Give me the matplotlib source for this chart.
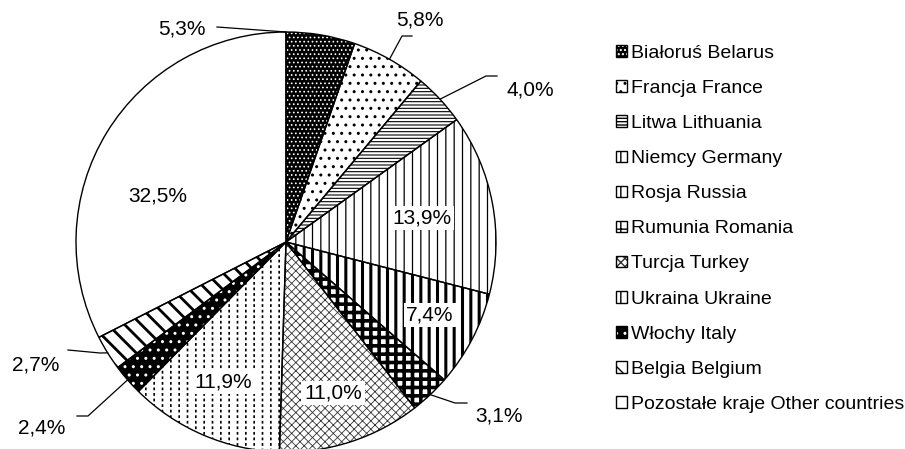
import matplotlib
matplotlib.use("Agg")
import numpy as np
import matplotlib.pyplot as plt
from matplotlib.legend_handler import HandlerTuple

W, H = 905, 449

countries = ["Białoruś Belarus", "Francja France", "Litwa Lithuania", "Niemcy Germany",
             "Rosja Russia", "Rumunia Romania", "Turcja Turkey", "Ukraina Ukraine",
             "Włochy Italy", "Belgia Belgium", "Pozostałe kraje Other countries"]
shares = [5.3, 5.8, 4.0, 13.9, 7.4, 3.1, 11.0, 11.9, 2.4, 2.7, 32.5]

# fill / hatch / hatch colour / hatch width for each slice
faces = ["black", "white", "white", "white", "white", "white", "white", "white", "black", "white", "white"]
hatches = ["....", "..", "-----", "||", "||", "++", "xxxx", "||", "..", "\\\\", None]
hatch_cols = ["white", "black", "black", "black", "black", "black", "#333333", "black", "white", "black", "white"]
hatch_lws = [0.7, 1.0, 0.8, 0.9, 2.2, 2.6, 0.6, 1.2, 1.0, 2.0, 1.0]

plt.rcParams["font.family"] = ["Liberation Sans", "DejaVu Sans"]
plt.rcParams["hatch.linewidth"] = 1.0


def px(x, y):
    return x, H - y


fig = plt.figure(figsize=(W / 100, H / 100), dpi=100)
ax = fig.add_axes([0, 0, 1, 1])
center = px(286, 242)
radius = 210

# hatch layer
fill_w, _ = ax.pie(shares, startangle=90, counterclock=False, center=center, radius=radius,
                   wedgeprops=dict(linewidth=0))
for w, fc, h, hc, hl in zip(fill_w, faces, hatches, hatch_cols, hatch_lws):
    w.set_facecolor(fc)
    w.set_edgecolor(hc)
    w.set_hatch(h)
    if hasattr(w, "set_hatch_linewidth"):
        w.set_hatch_linewidth(hl)

# white dashes cutting the Ukraine lines
dash_w, _ = ax.pie(shares, startangle=90, counterclock=False, center=center, radius=radius,
                   wedgeprops=dict(linewidth=0, facecolor="none"))
for i, w in enumerate(dash_w):
    if countries[i].startswith("Ukraina"):
        w.set_edgecolor("white")
        w.set_hatch("---")
        if hasattr(w, "set_hatch_linewidth"):
            w.set_hatch_linewidth(2.0)
    else:
        w.set_visible(False)

# outlines
edge_w, _ = ax.pie(shares, startangle=90, counterclock=False, center=center, radius=radius,
                   wedgeprops=dict(linewidth=1.0, edgecolor="black", facecolor="none"))

pct = [f"{v:.1f}%".replace(".", ",") for v in shares]

inside = {3: (422, 218), 4: (430, 315), 6: (333, 393), 7: (223, 382), 10: (158, 196)}
for i, (x, y) in inside.items():
    ax.text(*px(x, y), pct[i], ha="center", va="center", fontsize=15,
            bbox=dict(facecolor="white", edgecolor="none", pad=2))

# outside labels: text pos, leader elbow points, where on the arc to attach
outside = {
    0: ((182, 29), [(217, 27)], 1.0),
    1: ((420, 20), [(412, 36), (402, 36)], 0.5),
    2: ((530, 90), [(497, 76), (486, 76)], 0.5),
    5: ((499, 416), [(467, 403), (455, 403)], 0.5),
    8: ((42, 428), [(77, 416), (88, 416)], 0.5),
    9: ((36, 365), [(68, 350), (100, 353)], 0.5),
}
for i, (tpos, elbow, frac) in outside.items():
    w = edge_w[i]
    th = np.deg2rad(w.theta1 + frac * (w.theta2 - w.theta1))
    ax_, ay_ = center[0] + radius * np.cos(th), center[1] + radius * np.sin(th)
    pts = [px(x, y) for x, y in elbow] + [(ax_, ay_)]
    ax.plot([p[0] for p in pts], [p[1] for p in pts], color="black", lw=0.9)
    ax.text(*px(*tpos), pct[i], ha="center", va="center", fontsize=15)

handles = [(f, e) for f, e in zip(fill_w, edge_w)]
ax.legend(handles, countries, handler_map={tuple: HandlerTuple(ndivide=1, pad=0)},
          loc="upper left", bbox_to_anchor=px(616, 45), bbox_transform=ax.transData,
          frameon=False, fontsize=14, handlelength=0.55, handleheight=0.55,
          handletextpad=0.2, labelspacing=0.93, borderpad=0, borderaxespad=0)

ax.set_xlim(0, W)
ax.set_ylim(0, H)
ax.set_aspect("auto")
ax.axis("off")

fig.savefig("out.png", dpi=100)
